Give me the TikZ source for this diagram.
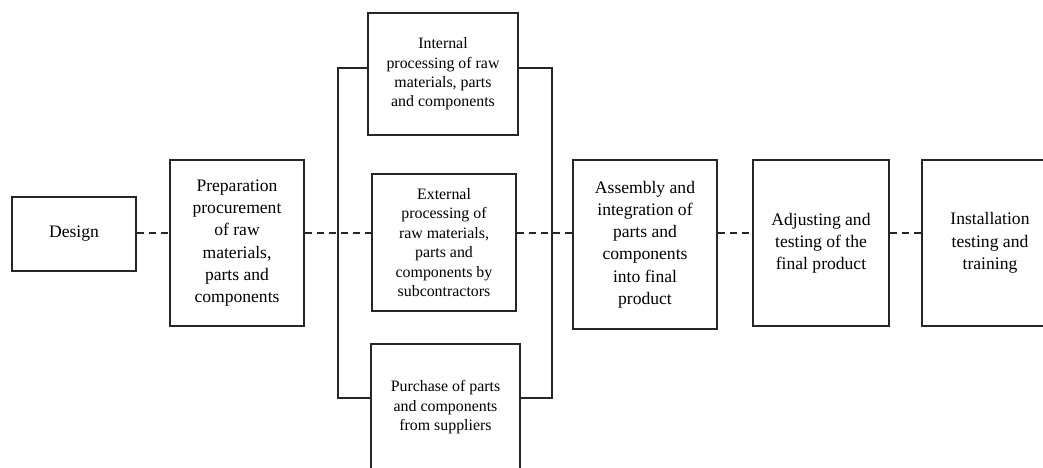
\documentclass[tikz,border=0pt]{standalone}
\usepackage{fontspec}
\setmainfont{Liberation Serif}
\usetikzlibrary{calc}

\begin{document}
\begin{tikzpicture}[
  stage/.style={draw=black!85, line width=1.1pt, fill=white, align=center, inner sep=2pt,
    font=\fontsize{12.5}{15.8}\selectfont},
  sub/.style={stage, font=\fontsize{11.3}{13.8}\selectfont},
  link/.style={line width=1.1pt, draw=black!85},
  flowline/.style={line width=1pt, draw=black!85, dash pattern=on 5pt off 3.5pt}
]

\def\W{26.075}
\def\H{11.7}
\useasboundingbox (0,0) rectangle (\W,\H);
\clip (0,0) rectangle (\W,\H);

\def\ymain{5.875}

% main chain
\node[stage, minimum width=3.1cm, minimum height=1.85cm] (design) at (1.85,5.85) {Design};
\node[stage, minimum width=3.35cm, minimum height=4.15cm] (prep) at (5.925,5.625)
  {Preparation\\procurement\\of raw\\materials,\\parts and\\components};

% three parallel ways
\node[sub, minimum width=3.75cm, minimum height=3.05cm] (internal) at (11.075,9.85)
  {Internal\\processing of raw\\materials, parts\\and components};
\node[sub, minimum width=3.6cm, minimum height=3.425cm] (external) at (11.1,5.6375)
  {External\\processing of\\raw materials,\\parts and\\components by\\subcontractors};
\node[sub, minimum width=3.725cm, minimum height=3.175cm] (purchase) at (11.1375,1.5125)
  {Purchase of parts\\and components\\from suppliers};

\node[stage, minimum width=3.6cm, minimum height=4.225cm] (assembly) at (16.125,5.5875)
  {Assembly and\\integration of\\parts and\\components\\into final\\product};
\node[stage, minimum width=3.4cm, minimum height=4.15cm] (adjust) at (20.525,5.625)
  {Adjusting and\\testing of the\\final product};
\node[stage, minimum width=3.4cm, minimum height=4.15cm] (install) at (24.75,5.625)
  {Installation\\testing and\\training};

% brackets round the parallel ways
\coordinate (ltop) at (8.45,10.0);
\coordinate (lbot) at (8.45,1.75);
\coordinate (rtop) at (13.8,10.0);
\coordinate (rbot) at (13.8,1.75);
\coordinate (lsplit) at (8.45,\ymain);
\coordinate (rsplit) at (13.8,\ymain);

\draw[link] (internal.west |- ltop) -- (ltop) -- (lbot) -- (purchase.west |- lbot);
\draw[link] (internal.east |- rtop) -- (rtop) -- (rbot) -- (purchase.east |- rbot);

% dashed flow
\draw[flowline] (design.east |- 0,\ymain) -- (prep.west |- 0,\ymain);
\draw[flowline] (prep.east |- lsplit) -- (lsplit) -- (external.west |- lsplit);
\draw[flowline] (external.east |- rsplit) -- (rsplit) -- (assembly.west |- rsplit);
\draw[flowline] (assembly.east |- 0,\ymain) -- (adjust.west |- 0,\ymain);
\draw[flowline] (adjust.east |- 0,\ymain) -- (install.west |- 0,\ymain);

\end{tikzpicture}
\end{document}
